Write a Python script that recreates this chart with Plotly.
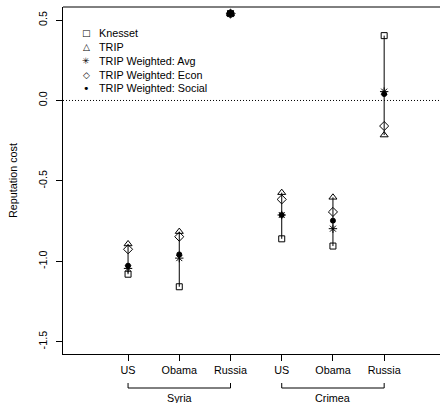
import plotly.graph_objects as go

# ---- data ----
positions = [1, 2, 3, 4, 5, 6]
tick_labels = ["US", "Obama", "Russia", "US", "Obama", "Russia"]
groups = ["Syria", "Crimea"]
group_members = [[1, 2, 3], [4, 5, 6]]

knesset = [-1.080, -1.158, 0.540, -0.860, -0.905, 0.403]
trip = [-0.892, -0.815, 0.538, -0.573, -0.602, -0.215]
trip_avg = [-1.044, -0.980, 0.540, -0.712, -0.797, 0.055]
trip_econ = [-0.925, -0.847, 0.540, -0.615, -0.693, -0.159]
trip_social = [-1.027, -0.957, 0.542, -0.712, -0.747, 0.040]

y_ticks = [-1.5, -1.0, -0.5, 0.0, 0.5]
y_ticktext = ["-1.5", "-1.0", "-0.5", "0.0", "0.5"]

series = [
    ("Knesset", knesset, "square-open", 6, "\u25a1", 9),
    ("TRIP", trip, "triangle-up-open", 7, "\u25b3", 9),
    ("TRIP Weighted: Avg", trip_avg, "asterisk-open", 7, "\u2733", 9),
    ("TRIP Weighted: Econ", trip_econ, "diamond-open", 7, "\u25c7", 9),
    ("TRIP Weighted: Social", trip_social, "circle", 5, "\u2022", 11),
]

FONT = "Liberation Sans, Arial, Helvetica, sans-serif"
fig = go.Figure()

# vertical range lines
lx, ly = [], []
for i, p in enumerate(positions):
    vals = [s[1][i] for s in series]
    lx += [p, p, None]
    ly += [min(vals), max(vals), None]
fig.add_trace(go.Scatter(x=lx, y=ly, mode="lines", line=dict(color="black", width=1),
                         showlegend=False, hoverinfo="skip"))

for name, vals, sym, size, _, _ in series:
    fig.add_trace(go.Scatter(
        x=positions, y=vals, mode="markers", name=name, showlegend=False,
        marker=dict(symbol=sym, size=size, color="black",
                    line=dict(color="black", width=1)),
    ))

# zero reference line
fig.add_shape(type="line", xref="paper", yref="y", x0=0, x1=1, y0=0, y1=0,
              line=dict(color="black", width=1, dash="1px,2px"))

# top frame line
fig.add_shape(type="line", xref="paper", yref="paper", x0=0, x1=1, y0=1, y1=1,
              line=dict(color="black", width=1))

# legend built from annotations
for i, (name, _, _, _, glyph, gsize) in enumerate(series):
    ys = -26.3 - 13.75 * i
    fig.add_annotation(x=0, y=1, xref="paper", yref="paper", text=glyph, showarrow=False,
                       xanchor="center", yanchor="middle", xshift=23, yshift=ys,
                       font=dict(family="DejaVu Sans", size=gsize, color="black"))
    fig.add_annotation(x=0, y=1, xref="paper", yref="paper", text=name, showarrow=False,
                       xanchor="left", yanchor="middle", xshift=34, yshift=ys,
                       font=dict(family=FONT, size=10.8, color="black"))

# group brackets and labels
for g, members in zip(groups, group_members):
    x0, x1 = members[0], members[-1]
    fig.add_shape(type="path", xref="x", yref="paper", ysizemode="pixel", yanchor=0,
                  path=f"M{x0},-29 L{x0},-34 L{x1},-34 L{x1},-29",
                  line=dict(color="black", width=1))
    fig.add_annotation(x=(x0 + x1) / 2, y=0, xref="x", yref="paper", text=g, showarrow=False,
                       yanchor="middle", yshift=-44, font=dict(family=FONT, size=10.8, color="black"))

fig.update_layout(
    width=440, height=403,
    margin=dict(l=63, r=0, t=7, b=49),
    paper_bgcolor="white", plot_bgcolor="white",
    font=dict(family=FONT, size=10.8, color="black"),
    showlegend=False,
    xaxis=dict(range=[-0.27, 7.09], tickmode="array", tickvals=positions, ticktext=tick_labels,
               showline=True, linecolor="black", linewidth=1, mirror=False,
               ticks="outside", ticklen=6, tickcolor="black", showgrid=False, zeroline=False),
    yaxis=dict(range=[-1.576, 0.581], tickmode="array", tickvals=y_ticks, ticktext=y_ticktext,
               tickangle=-90, showline=True, linecolor="black", linewidth=1,
               ticks="outside", ticklen=6, tickcolor="black", showgrid=False, zeroline=False,
               ticklabelstandoff=5,
               title=dict(text="Reputation cost", standoff=16, font=dict(size=10.8))),
)

fig.write_html("out.html")
